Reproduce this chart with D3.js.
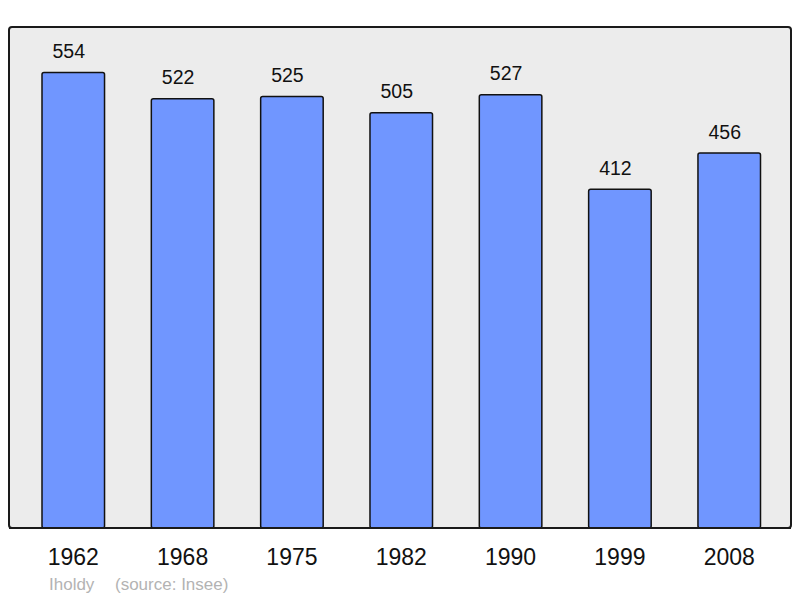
<!DOCTYPE html>
<html>
<head>
<meta charset="utf-8">
<script src="https://cdn.jsdelivr.net/npm/d3@7"></script>
<style>
    body { margin: 0; background: #fff; }
    text { font-family: "Liberation Sans", Arial, sans-serif; }
</style>
</head>
<body>
<div id="chart"></div>
<script>
let years = ["1962", "1968", "1975", "1982", "1990", "1999", "2008"]
let population = [554, 522, 525, 505, 527, 412, 456]
let commune = "Iholdy"
let source = "(source: Insee)"

let w = 800
let h = 598
let panel = { left: 9, top: 27, right: 791, bottom: 528 }

let svg = d3.select("#chart")
    .append("svg")
    .attr("width", w)
    .attr("height", h)

// background panel
svg.append("rect")
    .attr("x", panel.left)
    .attr("y", panel.top)
    .attr("width", panel.right - panel.left)
    .attr("height", panel.bottom - panel.top)
    .attr("rx", 3)
    .style("fill", "#ececec")
    .style("stroke", "#1a1a1a")
    .style("stroke-width", 2)

let x = d3.scaleBand()
    .domain(years)
    .range([42, 760.5])
    .paddingInner(0.428)
    .paddingOuter(0)

let y = d3.scaleLinear()
    .domain([0, 610])
    .range([panel.bottom, 26.5])

let data = years.map((yr, i) => ({ year: yr, value: population[i] }))

// bars
svg.selectAll("rect.bar")
    .data(data)
    .enter()
    .append("rect")
    .attr("class", "bar")
    .attr("x", d => x(d.year))
    .attr("y", d => y(d.value))
    .attr("width", x.bandwidth())
    .attr("height", d => y(0) - y(d.value))
    .attr("rx", 2)
    .style("fill", "#7096ff")
    .style("stroke", "#111")
    .style("stroke-width", 1.5)

// redraw the bottom border over the bars
svg.append("line")
    .attr("x1", panel.left)
    .attr("x2", panel.right)
    .attr("y1", panel.bottom)
    .attr("y2", panel.bottom)
    .style("stroke", "#1a1a1a")
    .style("stroke-width", 2)

// value labels (sit a little left of the bar centre, as in the original)
svg.selectAll("text.value")
    .data(data)
    .enter()
    .append("text")
    .attr("class", "value")
    .attr("x", d => x(d.year) + x.bandwidth() / 2 - 4.5)
    .attr("y", d => y(d.value) - 14.5)
    .style("text-anchor", "middle")
    .style("font-size", "19.5px")
    .style("fill", "#111")
    .text(d => d.value)

// year labels
let xAxis = d3.axisBottom(x).tickSize(0).tickPadding(0)
let gx = svg.append("g")
    .attr("transform", "translate(0," + panel.bottom + ")")
    .call(xAxis)
gx.select(".domain").remove()
gx.selectAll("text")
    .attr("y", 37)
    .attr("dy", 0)
    .style("font-family", "'Liberation Sans', Arial, sans-serif")
    .style("font-size", "23px")
    .style("fill", "#111")

// credits
svg.append("text")
    .attr("x", 49)
    .attr("y", 590)
    .style("font-size", "17px")
    .style("fill", "#b3b3b3")
    .text(commune)

svg.append("text")
    .attr("x", 115)
    .attr("y", 590)
    .style("font-size", "17px")
    .style("fill", "#b3b3b3")
    .text(source)
</script>
</body>
</html>
